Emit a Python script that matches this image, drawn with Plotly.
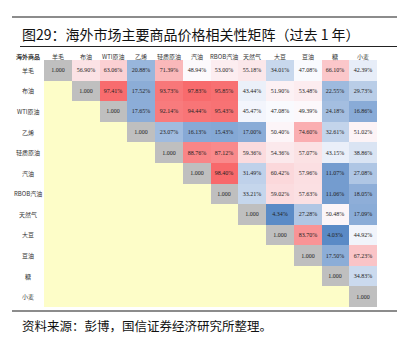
import numpy as np
import plotly.graph_objects as go

W, H = 407, 341

commodities = ["羊毛", "布油", "WTI原油", "乙烯", "轻质原油", "汽油",
               "RBOB汽油", "天然气", "大豆", "豆油", "糖", "小麦"]

# upper-triangle correlations (%), row by row, excluding the diagonal
row_wool = [56.90, 63.06, 20.88, 71.39, 48.94, 53.00, 55.18, 34.01, 47.08, 66.10, 42.39]
row_brent = [97.41, 17.52, 93.73, 97.83, 95.85, 43.44, 51.90, 53.48, 22.55, 29.73]
row_wti = [17.65, 92.14, 94.44, 95.43, 45.47, 47.08, 49.39, 24.18, 16.86]
row_ethylene = [23.07, 16.13, 15.43, 17.00, 50.40, 74.60, 32.61, 51.02]
row_light = [88.76, 87.12, 59.36, 54.36, 57.07, 43.15, 38.86]
row_gasoline = [98.40, 31.49, 60.42, 57.96, 11.07, 27.08]
row_rbob = [33.21, 59.02, 57.63, 11.06, 18.05]
row_natgas = [4.34, 27.28, 50.48, 17.09]
row_soy = [83.70, 4.03, 44.92]
row_soyoil = [17.50, 67.23]
row_sugar = [34.83]
row_wheat = []
upper_rows = [row_wool, row_brent, row_wti, row_ethylene, row_light, row_gasoline,
              row_rbob, row_natgas, row_soy, row_soyoil, row_sugar, row_wheat]
diag_label = "1.000"

n = len(commodities)
z_up = [[None] * n for _ in range(n)]
t_up = [[""] * n for _ in range(n)]
z_diag = [[None] * n for _ in range(n)]
t_diag = [[""] * n for _ in range(n)]
z_low = [[None] * n for _ in range(n)]
for i, r in enumerate(upper_rows):
    for k, v in enumerate(r):
        j = i + 1 + k
        z_up[i][j] = v
        t_up[i][j] = f"{v:.2f}%"
    z_diag[i][i] = 1
    t_diag[i][i] = diag_label
    for j in range(i):
        z_low[i][j] = 1

vals = np.array([v for r in upper_rows for v in r])
zmin, zmax, zmid = vals.min(), vals.max(), np.median(vals)
mid = (zmid - zmin) / (zmax - zmin)
cscale = [[0, "#5A8AC6"], [mid, "#FCFCFF"], [1, "#F8696B"]]

xs = list(range(n))
ys = list(range(n))
cell_font = dict(family="Liberation Serif, Times New Roman, serif", size=6, color="#222222")

fig = go.Figure()
fig.add_trace(go.Heatmap(z=z_low, x=xs, y=ys, colorscale=[[0, "#FDFDC8"], [1, "#FDFDC8"]],
                         showscale=False, hoverinfo="skip"))
fig.add_trace(go.Heatmap(z=z_diag, x=xs, y=ys, colorscale=[[0, "#BFBFBF"], [1, "#BFBFBF"]],
                         showscale=False, text=t_diag, texttemplate="%{text}",
                         textfont=cell_font, hoverinfo="skip"))
fig.add_trace(go.Heatmap(z=z_up, x=xs, y=ys, colorscale=cscale, zmin=zmin, zmax=zmax,
                         showscale=False, text=t_up, texttemplate="%{text}",
                         textfont=cell_font, hoverinfo="skip"))

gx0, gx1 = 44, 377
gy0, gy1 = 60, 307
fig.update_xaxes(domain=[gx0 / W, gx1 / W], range=[-0.5, n - 0.5], visible=False)
fig.update_yaxes(domain=[(H - gy1) / H, (H - gy0) / H], range=[n - 0.5, -0.5], visible=False)

lab_font = dict(family="Noto Sans CJK SC", size=6, color="#333333")
ann = []
hdr_y = (H - 56.5) / H
ann.append(dict(x=28 / W, y=hdr_y, xref="paper", yref="paper", text="<b>海外商品</b>",
                showarrow=False, font=lab_font, xanchor="center", yanchor="middle"))
for j, c in enumerate(commodities):
    ann.append(dict(x=j, y=hdr_y, xref="x", yref="paper", text=c, showarrow=False,
                    font=lab_font, xanchor="center", yanchor="middle"))
    ann.append(dict(x=28 / W, y=j, xref="paper", yref="y", text=c, showarrow=False,
                    font=lab_font, xanchor="center", yanchor="middle"))

ann.append(dict(x=20 / W, y=(H - 34) / H, xref="paper", yref="paper",
                text="图29：海外市场主要商品价格相关性矩阵（过去 1 年）", showarrow=False,
                font=dict(family="Noto Sans CJK SC", size=14, color="#111111"),
                xanchor="left", yanchor="middle"))
ann.append(dict(x=20 / W, y=(H - 325) / H, xref="paper", yref="paper",
                text="资料来源：彭博，国信证券经济研究所整理。", showarrow=False,
                font=dict(family="Noto Sans CJK SC", size=12.5, color="#111111"),
                xanchor="left", yanchor="middle"))

shapes = [
    dict(type="line", xref="paper", yref="paper", x0=12 / W, x1=397 / W,
         y0=(H - 17) / H, y1=(H - 17) / H, line=dict(color="#8C8C8C", width=2)),
    dict(type="line", xref="paper", yref="paper", x0=20 / W, x1=397 / W,
         y0=(H - 46.5) / H, y1=(H - 46.5) / H, line=dict(color="#222222", width=1)),
    dict(type="line", xref="paper", yref="paper", x0=12 / W, x1=397 / W,
         y0=(H - 311) / H, y1=(H - 311) / H, line=dict(color="#8C8C8C", width=2)),
]

fig.update_layout(width=W, height=H, margin=dict(l=0, r=0, t=0, b=0),
                  paper_bgcolor="white", plot_bgcolor="white",
                  annotations=ann, shapes=shapes, showlegend=False)
fig.write_html("out.html")
